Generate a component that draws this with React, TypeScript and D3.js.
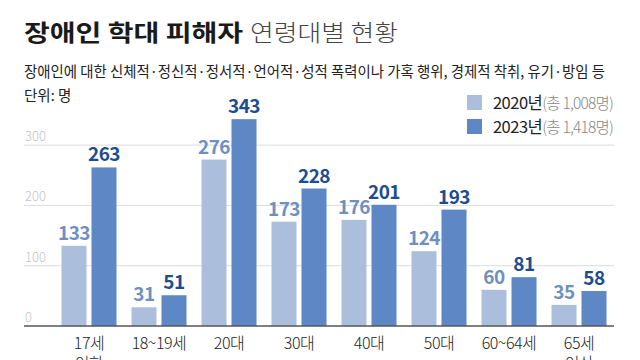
import React from "react";
import * as d3 from "d3";

const categories = ["17세\n이하", "18~19세", "20대", "30대", "40대", "50대", "60~64세", "65세\n이상"];
const series2020 = [133, 31, 276, 173, 176, 124, 60, 35];
const series2023 = [263, 51, 343, 228, 201, 193, 81, 58];
const years = ["2020", "2023"];
const legendLabels = ["2020년", "2023년"];
const legendTotals = ["(총 1,008명)", "(총 1,418명)"];
const yTicks = [0, 100, 200, 300];

const W = 640;
const H = 360;
const FONT = "'Noto Sans CJK KR', 'Noto Sans', sans-serif";
const LIGHT = "#abbedb";
const DARK = "#5d87c5";
const LIGHT_TXT = "#6f8fc2";
const DARK_TXT = "#1d4d8f";

export default function App() {
  const x0 = d3.scaleBand<string>().domain(categories).range([54, 614]).padding(0);
  const x1 = d3.scaleBand<string>().domain(years).range([7.5, 62.5]).paddingInner(1 / 6);
  const y = d3.scaleLinear().domain([0, 100]).range([326, 265.7]);
  const seriesArr = [series2020, series2023];
  const fills = [LIGHT, DARK];
  const txtFills = [LIGHT_TXT, DARK_TXT];

  return (
    <svg width={W} height={H} style={{ position: "absolute", left: 0, top: 0, background: "#fff" }} fontFamily={FONT}>
      <rect x={0} y={0} width={W} height={H} fill="#fff" />
      <text x={24} y={41} fontSize={23} fontWeight={700} fill="#1a1a1a" textLength={219} lengthAdjust="spacingAndGlyphs">
        장애인 학대 피해자
      </text>
      <text x={250} y={41} fontSize={23} fontWeight={300} fill="#444" textLength={148} lengthAdjust="spacingAndGlyphs">
        연령대별 현황
      </text>
      <text x={24} y={77} fontSize={15} fill="#222" textLength={581} lengthAdjust="spacingAndGlyphs">
        장애인에 대한 신체적·정신적·정서적·언어적·성적 폭력이나 가혹 행위, 경제적 착취, 유기·방임 등
      </text>
      <text x={24} y={101} fontSize={14.5} fill="#222">단위: 명</text>

      {yTicks.map((t) => (
        <g key={t}>
          {t > 0 && <line x1={24} x2={614} y1={y(t)} y2={y(t)} stroke="#dcdcdc" strokeWidth={1} />}
          <text x={25} y={y(t) - 4} fontSize={13} fill="#c4c4c4" fontWeight={300}>{t}</text>
        </g>
      ))}

      {legendLabels.map((l, i) => (
        <g key={l}>
          <rect x={467} y={95 + i * 24} width={15} height={15} fill={fills[i]} />
          <text x={613} y={109 + i * 24} fontSize={16.5} textAnchor="end" fill="#222">
            <tspan letterSpacing={-0.5}>{l}</tspan>
            <tspan fill="#888" fontWeight={300} fontSize={15.5} letterSpacing={-0.8}>{legendTotals[i]}</tspan>
          </text>
        </g>
      ))}

      {categories.map((c, ci) => (
        <g key={c} transform={`translate(${x0(c)},0)`}>
          {years.map((yr, si) => {
            const v = seriesArr[si][ci];
            const bx = x1(yr)!;
            return (
              <g key={yr}>
                <rect x={bx} y={y(v)} width={x1.bandwidth()} height={y(0) - y(v)} fill={fills[si]} />
                <text x={bx + x1.bandwidth() / 2} y={y(v) - 6} textAnchor="middle" fontSize={19} fontWeight={700} fill={txtFills[si]} letterSpacing={-0.5}>
                  {v}
                </text>
              </g>
            );
          })}
          <text x={x0.bandwidth() / 2} y={349} textAnchor="middle" fontSize={16} fontWeight={300} fill="#222" letterSpacing={-0.5}>
            {c.split("\n").map((line, li) => (
              <tspan key={li} x={x0.bandwidth() / 2} dy={li === 0 ? 0 : 20}>{line}</tspan>
            ))}
          </text>
        </g>
      ))}
      <line x1={24} x2={614} y1={y(0)} y2={y(0)} stroke="#555" strokeWidth={1.5} />
    </svg>
  );
}
